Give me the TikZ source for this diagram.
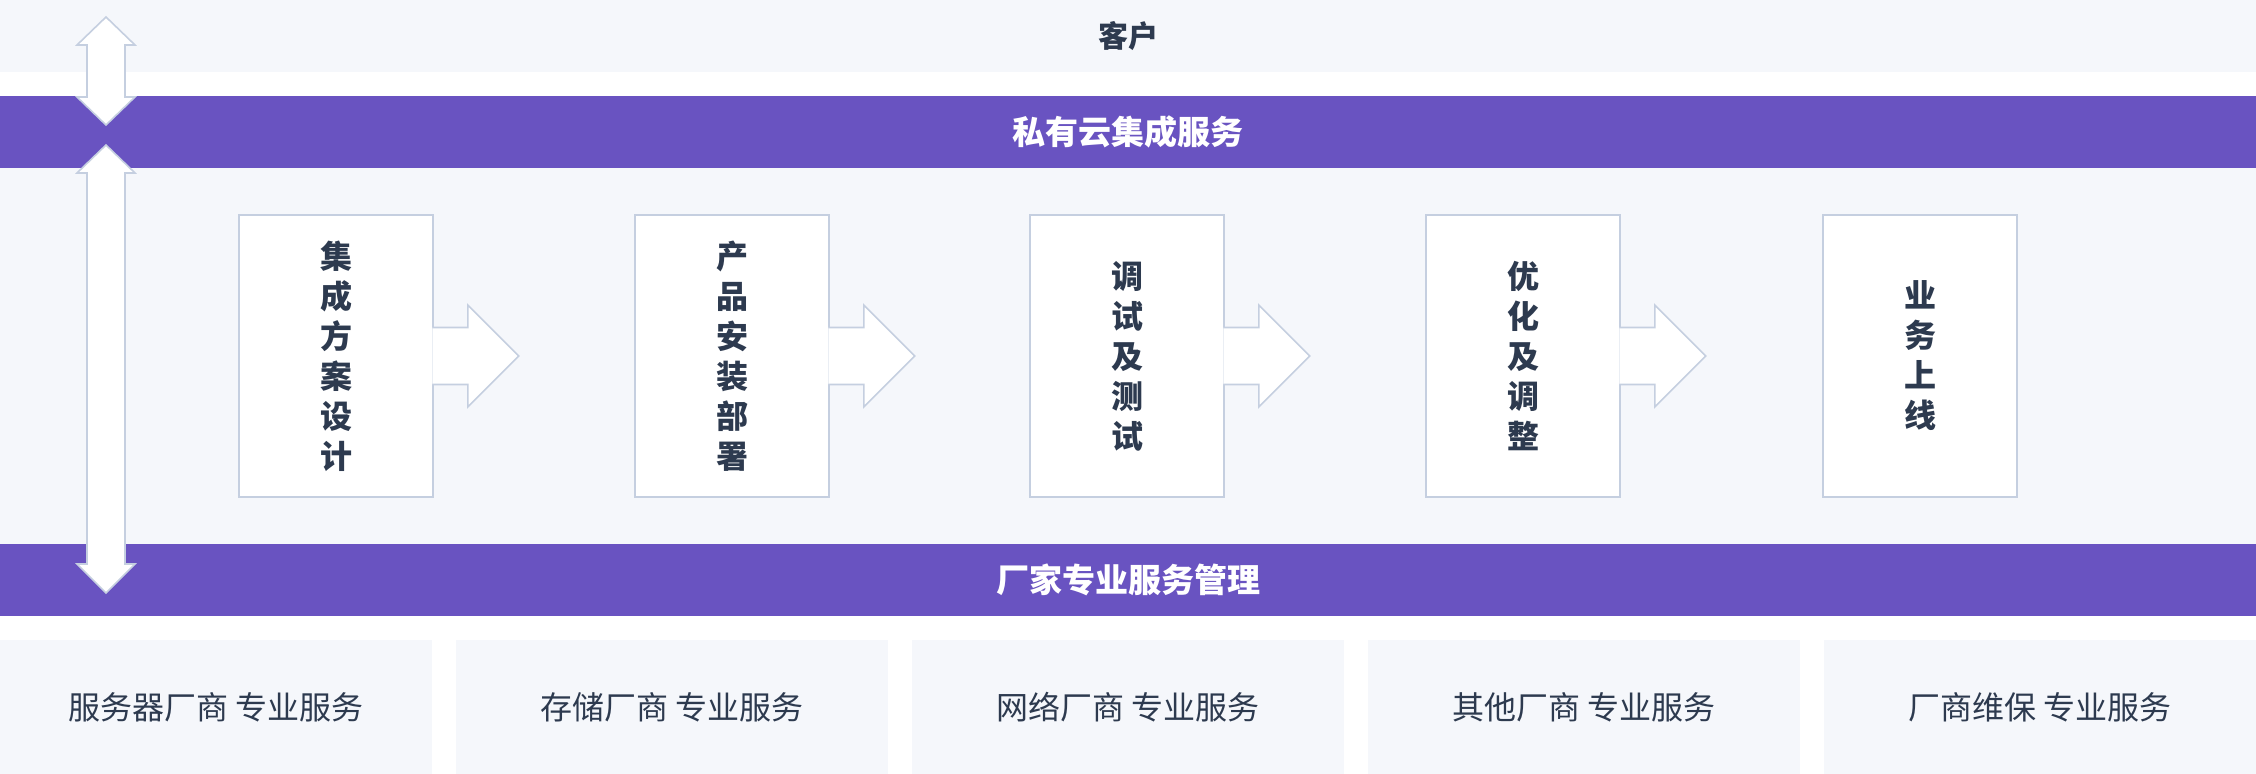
\documentclass[tikz,border=0pt]{standalone}
\usepackage{fontspec}
\setmainfont{Noto Sans CJK SC}
\usetikzlibrary{calc}
\definecolor{bandpurple}{HTML}{6953C1}
\definecolor{panelgray}{HTML}{F5F7FB}
\definecolor{edgeblue}{HTML}{C5CFE0}
\definecolor{inkdark}{HTML}{2D3A4F}
\begin{document}
\begin{tikzpicture}[x=0.5pt,y=-0.5pt]
    \fill[white] (0,0) rectangle (2256,774);
    \useasboundingbox (0,0) rectangle (2256,774);
    % bands
    \tikzstyle{bandnode} = [rectangle,inner sep=0pt,minimum width=1128pt,minimum height=36pt]
    \node[bandnode,fill=panelgray,text=inkdark,font=\bfseries\fontsize{15}{18}\selectfont] (client) at (1128,36) {客户};
    \node[bandnode,fill=bandpurple,text=white,font=\bfseries\fontsize{16.5}{20}\selectfont] (cloud) at (1128,132) {私有云集成服务};
    \fill[panelgray] (0,168) rectangle (2256,544);
    \node[bandnode,fill=bandpurple,text=white,font=\bfseries\fontsize{16.5}{20}\selectfont] (vendor) at (1128,580) {厂家专业服务管理};
    % left double arrows
    \tikzstyle{dblarrow} = [fill=white,draw=edgeblue,line width=0.8pt,line join=miter]
    \draw[dblarrow] (106,17) -- (135,45) -- (125,45) -- (125,97) -- (135,97) -- (106,125)
        -- (77,97) -- (87,97) -- (87,45) -- (77,45) -- cycle;
    \draw[dblarrow] (106,145) -- (135,173) -- (125,173) -- (125,564) -- (135,564) -- (106,593)
        -- (77,564) -- (87,564) -- (87,173) -- (77,173) -- cycle;
    % process steps
    \tikzstyle{stepbox} = [rectangle,draw=edgeblue,line width=0.8pt,fill=white,minimum width=97pt,minimum height=141pt,align=center,text=inkdark,font=\bfseries\fontsize{16}{20}\selectfont]
    \node[stepbox] (design) at (336,356) {集\\成\\方\\案\\设\\计};
    \node[stepbox] (deploy) at (732,356) {产\\品\\安\\装\\部\\署};
    \node[stepbox] (debug) at (1127,356) {调\\试\\及\\测\\试};
    \node[stepbox] (tune) at (1523,356) {优\\化\\及\\调\\整};
    \node[stepbox] (golive) at (1920,356) {业\\务\\上\\线};
    \tikzstyle{flowarrow} = [fill=white,draw=edgeblue,line width=0.8pt,line join=miter]
    \path[flowarrow] ($(design.east)+(-1.5,-28.5)$) -- ++(35.5,0) -- ++(0,-22.5) -- ++(51,51) -- ++(-51,51) -- ++(0,-22.5) -- ++(-35.5,0);
    \path[flowarrow] ($(deploy.east)+(-1.5,-28.5)$) -- ++(35.5,0) -- ++(0,-22.5) -- ++(51,51) -- ++(-51,51) -- ++(0,-22.5) -- ++(-35.5,0);
    \path[flowarrow] ($(debug.east)+(-1.5,-28.5)$) -- ++(35.5,0) -- ++(0,-22.5) -- ++(51,51) -- ++(-51,51) -- ++(0,-22.5) -- ++(-35.5,0);
    \path[flowarrow] ($(tune.east)+(-1.5,-28.5)$) -- ++(35.5,0) -- ++(0,-22.5) -- ++(51,51) -- ++(-51,51) -- ++(0,-22.5) -- ++(-35.5,0);
    % vendor services
    \tikzstyle{vendorbox} = [rectangle,fill=panelgray,inner sep=0pt,minimum width=216pt,minimum height=67pt,text=inkdark,font=\fontsize{16}{20}\selectfont]
    \node[vendorbox] (server) at (216,707) {服务器厂商 专业服务};
    \node[vendorbox] (storage) at (672,707) {存储厂商 专业服务};
    \node[vendorbox] (network) at (1128,707) {网络厂商 专业服务};
    \node[vendorbox] (others) at (1584,707) {其他厂商 专业服务};
    \node[vendorbox] (upkeep) at (2040,707) {厂商维保 专业服务};
\end{tikzpicture}
\end{document}
